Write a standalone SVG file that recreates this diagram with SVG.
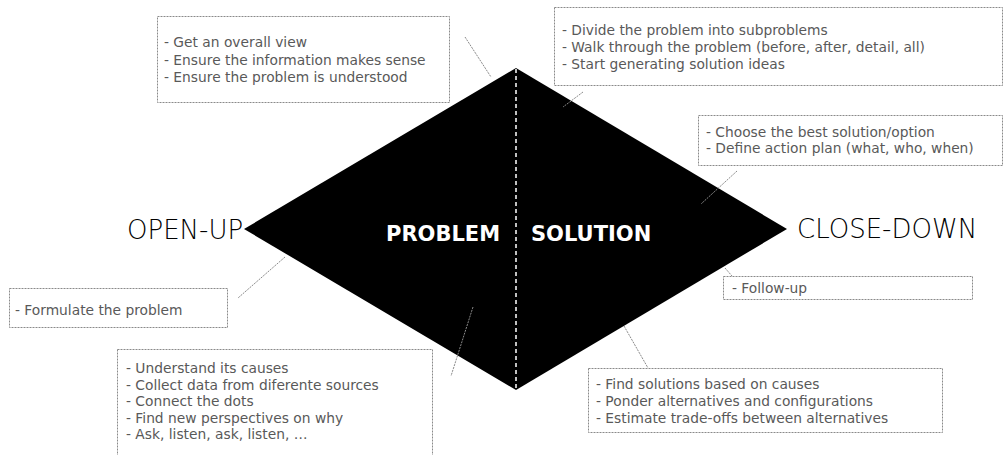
<svg xmlns="http://www.w3.org/2000/svg" width="1006" height="455" viewBox="0 0 1006 455">
<style>
.box{fill:#fff;stroke:#8a8a8a;stroke-width:1;stroke-dasharray:2 1}
.t{font-family:"DejaVu Sans","Liberation Sans",sans-serif;font-size:13.8px;fill:#595959}
.big{font-family:"DejaVu Sans","Liberation Sans",sans-serif;font-size:26px;font-weight:200;fill:#000}
.lbl{font-family:"DejaVu Sans","Liberation Sans",sans-serif;font-size:21px;font-weight:bold;fill:#fff}
.con{stroke:#8a8a8a;stroke-width:1;stroke-dasharray:2 1;fill:none}
</style>
<rect width="1006" height="455" fill="#fff"/>
<g id="diamond">
<polygon points="516,68 787,229 516,390 244,229" fill="#000"/>
<line x1="516" y1="69" x2="516" y2="389" stroke="#fff" stroke-width="1.5" stroke-dasharray="4 3"/>
<text class="lbl" x="386" y="240.5">PROBLEM</text>
<text class="lbl" x="531" y="240.5">SOLUTION</text>
</g>
<g id="open-up"><text class="big" x="127" y="238.5">OPEN-UP</text></g>
<g id="close-down"><text class="big" x="797" y="237.5">CLOSE-DOWN</text></g>
<g id="connectors">
<line class="con" x1="465" y1="37" x2="491" y2="77"/>
<line class="con" x1="583" y1="92" x2="563" y2="107"/>
<line class="con" x1="737" y1="171" x2="701" y2="204"/>
<line class="con" x1="725" y1="268" x2="732" y2="276"/>
<line class="con" x1="285" y1="257" x2="238" y2="298"/>
<line class="con" x1="473" y1="307" x2="451" y2="376"/>
<line class="con" x1="624" y1="326" x2="648" y2="368"/>
</g>
<g id="box-understand">
<rect class="box" x="157.5" y="16.5" width="292" height="86"/>
<text class="t" x="164" y="47">- Get an overall view</text>
<text class="t" x="164" y="64.5">- Ensure the information makes sense</text>
<text class="t" x="164" y="82">- Ensure the problem is understood</text>
</g>
<g id="box-divide">
<rect class="box" x="554.5" y="7.5" width="448" height="78"/>
<text class="t" x="562" y="35">- Divide the problem into subproblems</text>
<text class="t" x="562" y="52">- Walk through the problem (before, after, detail, all)</text>
<text class="t" x="562" y="69">- Start generating solution ideas</text>
</g>
<g id="box-choose">
<rect class="box" x="698.5" y="115.5" width="304" height="50"/>
<text class="t" x="706" y="137">- Choose the best solution/option</text>
<text class="t" x="706" y="153">- Define action plan (what, who, when)</text>
</g>
<g id="box-formulate">
<rect class="box" x="9.5" y="288.5" width="218" height="39"/>
<text class="t" x="15" y="315">- Formulate the problem</text>
</g>
<g id="box-follow">
<rect class="box" x="723.5" y="276.5" width="249" height="23"/>
<text class="t" x="732" y="293">- Follow-up</text>
</g>
<g id="box-causes">
<rect class="box" x="117.5" y="349.5" width="315" height="115"/>
<text class="t" x="126" y="373">- Understand its causes</text>
<text class="t" x="126" y="390">- Collect data from diferente sources</text>
<text class="t" x="126" y="406">- Connect the dots</text>
<text class="t" x="126" y="423">- Find new perspectives on why</text>
<text class="t" x="126" y="439">- Ask, listen, ask, listen, …</text>
</g>
<g id="box-solutions">
<rect class="box" x="588.5" y="368.5" width="354" height="64"/>
<text class="t" x="596" y="389">- Find solutions based on causes</text>
<text class="t" x="596" y="406">- Ponder alternatives and configurations</text>
<text class="t" x="596" y="423">- Estimate trade-offs between alternatives</text>
</g>
</svg>
